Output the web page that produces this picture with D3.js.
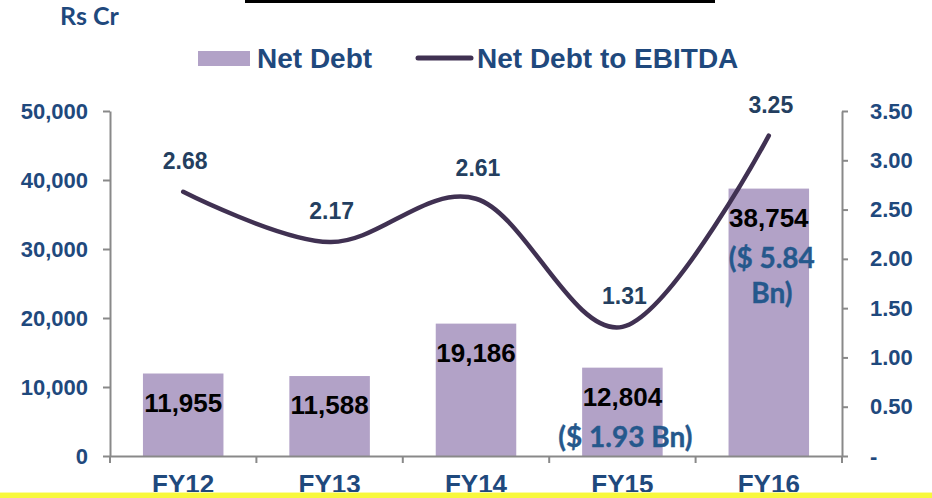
<!DOCTYPE html>
<html>
<head>
<meta charset="utf-8">
<script src="https://cdn.jsdelivr.net/npm/d3@7"></script>
<style>
  html, body { margin: 0; padding: 0; background: #fff; }
  svg { display: block; }
</style>
</head>
<body>
<div id="chart"></div>
<script>
// Values.
const categories = ["FY12", "FY13", "FY14", "FY15", "FY16"];
const netDebt = [11955, 11588, 19186, 12804, 38754];
const debtToEbitda = [2.68, 2.17, 2.61, 1.31, 3.25];
const usdBn = [null, null, null, 1.93, 5.84];
const leftTicks = [0, 10000, 20000, 30000, 40000, 50000];
const rightTicks = [0, 0.5, 1, 1.5, 2, 2.5, 3, 3.5];

const width = 932, height = 498;
const margins = { top: 111, right: 90, bottom: 42, left: 110 };

const blue = '#1F497D';
const barColor = '#B2A2C7';
const lineColor = '#403152';
const axisColor = '#898989';
const arial = 'Liberation Sans, Arial, sans-serif';
const calibri = 'Lato, Carlito, sans-serif';

const svg = d3.select('#chart').append('svg')
  .attr('width', width)
  .attr('height', height);

// Black rule at the very top
svg.append('rect')
  .attr('x', 245).attr('y', 0)
  .attr('width', 470).attr('height', 3)
  .attr('fill', '#000');

svg.append('text')
  .attr('x', 60).attr('y', 25)
  .attr('font-family', calibri)
  .attr('font-weight', 'bold')
  .attr('font-size', '25px')
  .attr('fill', blue)
  .text('Rs Cr');

// Legend
const legend = svg.append('g');
legend.append('rect')
  .attr('x', 198).attr('y', 51)
  .attr('width', 52).attr('height', 15)
  .attr('fill', barColor);
legend.append('text')
  .attr('x', 257).attr('y', 68)
  .attr('font-family', arial).attr('font-weight', 'bold')
  .attr('font-size', '28px').attr('fill', blue)
  .text('Net Debt');
legend.append('line')
  .attr('x1', 418).attr('x2', 471)
  .attr('y1', 58).attr('y2', 58)
  .attr('stroke', lineColor)
  .attr('stroke-width', 5)
  .attr('stroke-linecap', 'round');
legend.append('text')
  .attr('x', 477).attr('y', 68)
  .attr('font-family', arial).attr('font-weight', 'bold')
  .attr('font-size', '28px').attr('fill', blue)
  .text('Net Debt to EBITDA');

// Scales
const x = d3.scaleBand()
  .domain(categories)
  .range([margins.left, width - margins.right])
  .paddingInner(0.45)
  .paddingOuter(0.225);

const yLeft = d3.scaleLinear()
  .domain([0, 50000])
  .range([height - margins.bottom, margins.top]);

const yRight = d3.scaleLinear()
  .domain([0, 3.5])
  .range([height - margins.bottom, margins.top]);

function styleAxis(g) {
  g.select('.domain').attr('stroke', axisColor).attr('stroke-width', 2);
  g.selectAll('.tick line').attr('stroke', axisColor).attr('stroke-width', 2);
  g.selectAll('.tick text')
    .attr('font-family', arial)
    .attr('font-weight', 'bold')
    .attr('fill', blue);
}

// Left axis
svg.append('g')
  .attr('transform', `translate(${margins.left}, 0)`)
  .call(d3.axisLeft(yLeft)
    .tickValues(leftTicks)
    .tickFormat(d3.format(','))
    .tickSizeInner(7).tickSizeOuter(0).tickPadding(15))
  .call(styleAxis)
  .call(g => g.selectAll('.tick text').attr('font-size', '22px'));

// Right axis
svg.append('g')
  .attr('transform', `translate(${width - margins.right}, 0)`)
  .call(d3.axisRight(yRight)
    .tickValues(rightTicks)
    .tickFormat(d => d === 0 ? '-' : d.toFixed(2))
    .tickSizeInner(6).tickSizeOuter(0).tickPadding(22))
  .call(styleAxis)
  .call(g => g.selectAll('.tick text').attr('font-size', '22px'));

// Bars
svg.append('g')
  .selectAll('rect')
  .data(netDebt)
  .enter()
  .append('rect')
  .attr('x', (d, i) => x(categories[i]))
  .attr('y', d => yLeft(d))
  .attr('width', x.bandwidth())
  .attr('height', d => yLeft(0) - yLeft(d))
  .attr('fill', barColor);

// Bottom axis: labels centred, ticks on category boundaries
const bottomG = svg.append('g')
  .attr('transform', `translate(0, ${height - margins.bottom})`)
  .call(d3.axisBottom(x)
    .tickSize(0).tickPadding(19))
  .call(styleAxis)
  .call(g => g.selectAll('.tick text').attr('font-size', '26px'));

bottomG.selectAll('.boundary')
  .data(d3.range(categories.length + 1))
  .enter()
  .append('line')
  .attr('class', 'boundary')
  .attr('x1', i => x.range()[0] + i * x.step())
  .attr('x2', i => x.range()[0] + i * x.step())
  .attr('y1', 0).attr('y2', 7)
  .attr('stroke', axisColor)
  .attr('stroke-width', 2);

// Net debt to EBITDA line
const line = d3.line()
  .x((d, i) => x(categories[i]) + x.bandwidth() / 2)
  .y(d => yRight(d))
  .curve(d3.curveCardinal.tension(0));

svg.append('path')
  .datum(debtToEbitda)
  .attr('d', line)
  .attr('fill', 'none')
  .attr('stroke', lineColor)
  .attr('stroke-width', 4.5)
  .attr('stroke-linecap', 'round');

// Line labels
svg.append('g')
  .selectAll('text')
  .data(debtToEbitda)
  .enter()
  .append('text')
  .attr('x', (d, i) => x(categories[i]) + x.bandwidth() / 2 + 2)
  .attr('y', d => yRight(d) - 23)
  .attr('text-anchor', 'middle')
  .attr('font-family', arial).attr('font-weight', 'bold')
  .attr('font-size', '23px')
  .attr('fill', '#243F60')
  .text(d => d.toFixed(2));

// Bar labels
svg.append('g')
  .selectAll('text')
  .data(netDebt)
  .enter()
  .append('text')
  .attr('x', (d, i) => x(categories[i]) + x.bandwidth() / 2)
  .attr('y', d => yLeft(d) + 38)
  .attr('text-anchor', 'middle')
  .attr('font-family', arial).attr('font-weight', 'bold')
  .attr('font-size', '26px')
  .attr('fill', '#000')
  .text(d => d3.format(',')(d));

// USD notes under the bar labels
const usdLines = (v, i) => i === categories.length - 1
  ? [`($ ${v.toFixed(2)}`, 'Bn)']
  : [`($ ${v.toFixed(2)} Bn)`];

usdBn.forEach((v, i) => {
  if (v === null) return;
  const cx = x(categories[i]) + x.bandwidth() / 2 + 3;
  const top = yLeft(netDebt[i]);
  const t = svg.append('text')
    .attr('text-anchor', 'middle')
    .attr('font-family', calibri).attr('font-weight', 'bold')
    .attr('font-size', '28px')
    .attr('fill', '#25588C')
    .attr('stroke', '#25588C')
    .attr('stroke-width', 0.4);
  usdLines(v, i).forEach((s, k) => {
    t.append('tspan')
      .attr('x', cx)
      .attr('y', top + 79 + k * 35)
      .text(s);
  });
});

// Yellow strip at the bottom edge
svg.append('rect')
  .attr('x', 0).attr('y', 492)
  .attr('width', width).attr('height', 1)
  .attr('fill', '#FBFBA8');
svg.append('rect')
  .attr('x', 0).attr('y', 493)
  .attr('width', width).attr('height', 5)
  .attr('fill', '#F8F83C');
</script>
</body>
</html>
